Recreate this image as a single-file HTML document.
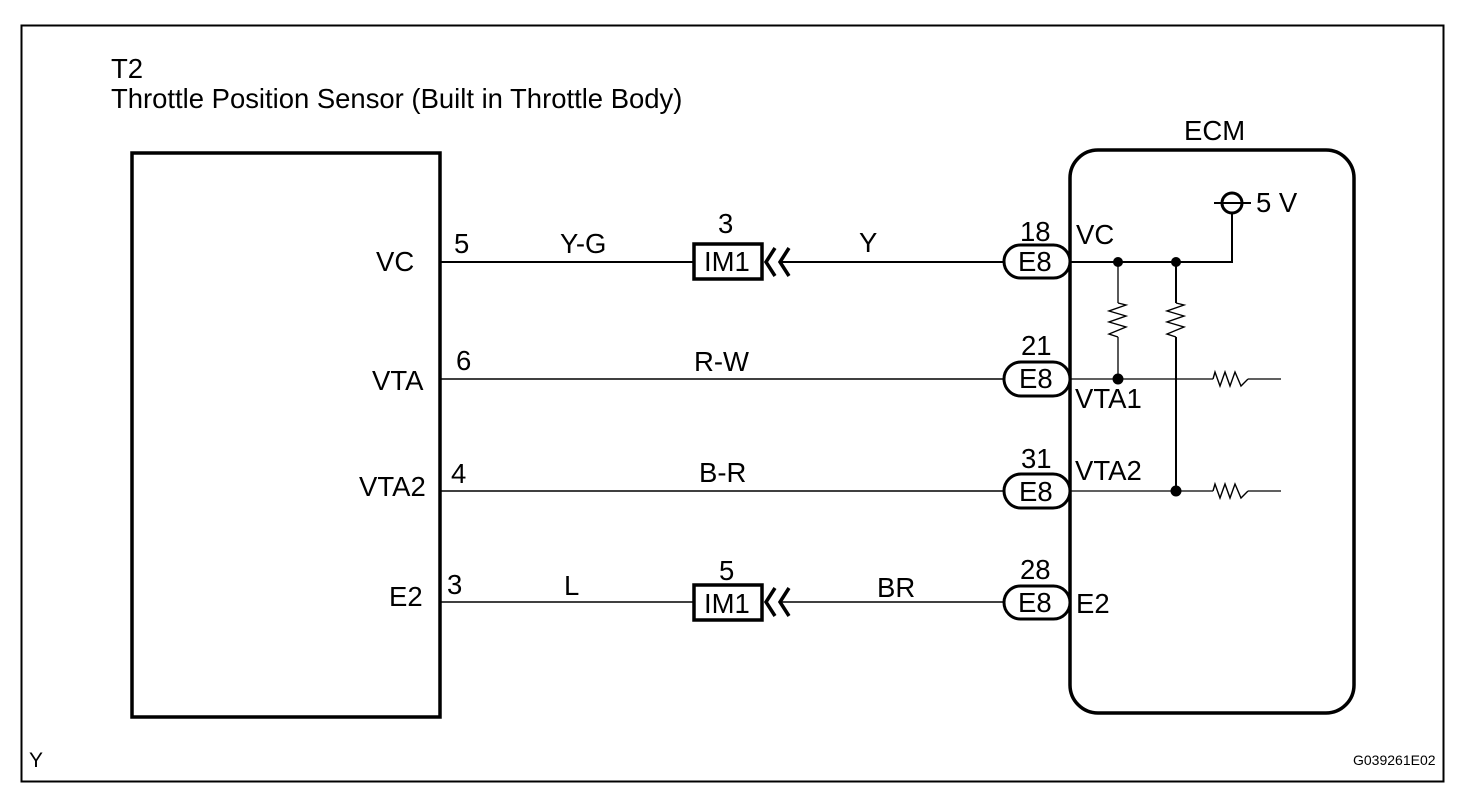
<!DOCTYPE html>
<html><head><meta charset="utf-8"><style>
html,body{margin:0;padding:0;background:#fff}
svg{display:block}
text{font-family:"Liberation Sans",sans-serif;font-size:27.5px;fill:#000}
</style></head><body>
<svg width="1472" height="790" viewBox="0 0 1472 790" xmlns="http://www.w3.org/2000/svg">
<rect x="21.5" y="25.5" width="1422" height="756" fill="none" stroke="#000" stroke-width="2"/>
<text x="111" y="78" style="font-size:27.5px">T2</text>
<text x="111" y="108" style="font-size:27.45px">Throttle Position Sensor (Built in Throttle Body)</text>
<text x="1184" y="140">ECM</text>
<rect x="132" y="153" width="308" height="564" fill="none" stroke="#000" stroke-width="3.5"/>
<rect x="1070" y="150" width="284" height="563" rx="28" ry="28" fill="none" stroke="#000" stroke-width="3.5"/>
<g stroke="#000" fill="none">
<path d="M441 262H694M779 262H1004" stroke-width="2"/>
<path d="M441 379H1004M441 491H1004M441 602H694M779 602H1004" stroke-width="1.5"/>
<path d="M1070 262H1232V213" stroke-width="2"/>
<path d="M1070 379H1213M1248 379H1281M1070 491H1213M1248 491H1281" stroke-width="1.3"/>
<path d="M1118 262V303M1118 337V379" stroke-width="1.3"/>
<path d="M1176 262V303M1176 337V491" stroke-width="2"/>
<path d="M1118 303L1126 305L1109 311L1126 316L1109 322L1126 327L1109 334L1118 337" stroke-width="1.4"/>
<path d="M1176 303L1184 305L1167 311L1184 316L1167 322L1184 327L1167 334L1176 337" stroke-width="1.4"/>
<path d="M1213 379L1215 372L1220 386L1225 372L1230 386L1235 372L1241 386L1248 379" stroke-width="1.4"/>
<path d="M1213 491L1215 484L1220 498L1225 484L1230 498L1235 484L1241 498L1248 491" stroke-width="1.4"/>
<circle cx="1232" cy="203" r="10" stroke-width="3"/>
<path d="M1214 203H1251" stroke-width="2"/>
<rect x="694" y="244" width="68" height="35" stroke-width="3.5"/>
<rect x="694" y="585" width="68" height="35" stroke-width="3.5"/>
<path d="M775 248L766 262L775 276M789 248L780 262L789 276" stroke-width="3.5"/>
<path d="M775 588L766 602L775 616M789 588L780 602L789 616" stroke-width="3.5"/>
<rect x="1004" y="245" width="66" height="33" rx="16.5" fill="#fff" stroke-width="3"/>
<rect x="1004" y="362" width="66" height="34" rx="17" fill="#fff" stroke-width="3"/>
<rect x="1004" y="474" width="66" height="34" rx="17" fill="#fff" stroke-width="3"/>
<rect x="1004" y="586" width="66" height="33" rx="16.5" fill="#fff" stroke-width="3"/>
</g>
<g fill="#000">
<circle cx="1118" cy="262" r="5"/><circle cx="1176" cy="262" r="5"/>
<circle cx="1118" cy="379" r="5.5"/><circle cx="1176" cy="491" r="5.5"/>
</g>
<text x="376" y="271">VC</text>
<text x="372" y="390">VTA</text>
<text x="359" y="496">VTA2</text>
<text x="389" y="606">E2</text>
<text x="454" y="253">5</text>
<text x="456" y="370">6</text>
<text x="451" y="483">4</text>
<text x="447" y="594">3</text>
<text x="560" y="253">Y-G</text>
<text x="694" y="371">R-W</text>
<text x="699" y="482">B-R</text>
<text x="564" y="595">L</text>
<text x="859" y="252">Y</text>
<text x="877" y="597">BR</text>
<text x="718" y="233">3</text>
<text x="719" y="580">5</text>
<text x="704" y="271">IM1</text>
<text x="704" y="613">IM1</text>
<text x="1020" y="241">18</text>
<text x="1021" y="355">21</text>
<text x="1021" y="468">31</text>
<text x="1020" y="579">28</text>
<text x="1018" y="271">E8</text>
<text x="1019" y="388">E8</text>
<text x="1019" y="501">E8</text>
<text x="1018" y="612">E8</text>
<text x="1076" y="244">VC</text>
<text x="1075" y="408">VTA1</text>
<text x="1075" y="480">VTA2</text>
<text x="1076" y="613">E2</text>
<text x="1256" y="212">5 V</text>
<text x="29" y="767" style="font-size:21px">Y</text>
<text x="1353" y="765" style="font-size:14px">G039261E02</text>
</svg>
</body></html>
